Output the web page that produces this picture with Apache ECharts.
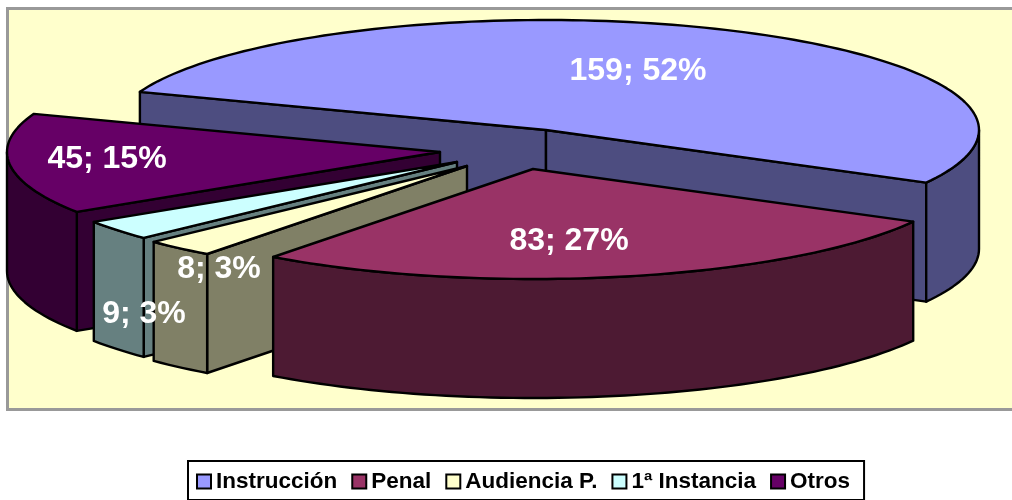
<!DOCTYPE html>
<html><head><meta charset="utf-8">
<style>html,body{margin:0;padding:0;background:#fff}#c{width:1012px;height:500px}</style>
<script src="https://cdn.jsdelivr.net/npm/echarts@6/dist/echarts.min.js"></script>
</head><body><div id="c"></div>
<script>
// Data
const categories = ['Instrucción', 'Penal', 'Audiencia P.', '1ª Instancia', 'Otros'];
const values = [159, 83, 8, 9, 45];
// Colours
const topColors = ['#9999FF', '#993366', '#FFFFCC', '#CCFFFF', '#660066'];
const sideColors = ['#4D4D80', '#4D1A33', '#808066', '#668080', '#330033'];
// Layout of the exploded, tilted pie (screen pixels)
const apexX = [546, 533, 467, 457, 440];
const apexY = [130, 169, 166, 162, 152];
const labelX = [638, 569, 219, 144, 107];
const labelY = [71, 241, 269, 314, 159];
const drawOrder = [1, 5, 4, 3, 2];
const radiusX = 433, radiusY = 110, depth = 119, startAngle = 200.3;

const total = values.reduce((a, b) => a + b, 0);
const rad = d => d * Math.PI / 180;
let acc = 0;
const spans = values.map(v => { const s = startAngle + acc / total * 360; acc += v; return [s, startAngle + acc / total * 360]; });

function arc(i, a0, a1, dy) {
  const n = Math.max(2, Math.ceil(Math.abs(a1 - a0) / 1.5)), pts = [];
  for (let k = 0; k <= n; k++) {
    const a = rad(a0 + (a1 - a0) * k / n);
    pts.push([apexX[i] + radiusX * Math.cos(a), apexY[i] + radiusY * Math.sin(a) + dy]);
  }
  return pts;
}
const stroke = { stroke: '#000', lineWidth: 2.4, lineJoin: 'round' };
function poly(points, fill) {
  return { type: 'polygon', shape: { points }, style: Object.assign({ fill }, stroke) };
}
function face(i, corner) {
  const apex = [apexX[i], apexY[i]];
  return poly([apex, corner, [corner[0], corner[1] + depth], [apex[0], apex[1] + depth]], sideColors[i]);
}
function render(i) {
  const [a0, a1] = spans[i], kids = [];
  const c0 = arc(i, a0, a0, 0)[0], c1 = arc(i, a1, a1, 0)[0];
  if (Math.sin(rad(a0 - 90)) > 0) kids.push(face(i, c0));
  if (Math.sin(rad(a1 + 90)) > 0) kids.push(face(i, c1));
  // outer wall: the part of the rim facing the viewer (0..180 deg, mod 360)
  for (const base of [0, 360]) {
    const w0 = Math.max(a0, base), w1 = Math.min(a1, base + 180);
    if (w1 > w0) kids.push(poly(arc(i, w0, w1, 0).concat(arc(i, w1, w0, depth)), sideColors[i]));
  }
  kids.push(poly([[apexX[i], apexY[i]]].concat(arc(i, a0, a1, 0)), topColors[i]));
  return { type: 'group', children: kids };
}
function renderLabel(params) {
  const i = params.dataIndex, pct = Math.round(values[i] / total * 100);
  return {
    type: 'text', x: labelX[i], y: labelY[i],
    style: { text: values[i] + '; ' + pct + '%', fill: '#fff', font: 'bold 32px "Liberation Sans", Arial, sans-serif', align: 'center', verticalAlign: 'middle' }
  };
}
const chart = echarts.init(document.getElementById('c'), null, { renderer: 'canvas' });
chart.setOption({
  animation: false,
  graphic: [{ type: 'rect', silent: true, z: -10, shape: { x: 7.5, y: 8.5, width: 1012, height: 401 }, style: { fill: '#FFFFCC', stroke: '#999', lineWidth: 3 } }],
  legend: {
    left: 188, top: 461, padding: [9, 14, 7, 8], itemGap: 14, itemWidth: 14, itemHeight: 14,
    backgroundColor: '#fff', borderColor: '#000', borderWidth: 2, selectedMode: false, icon: 'rect',
    itemStyle: { borderColor: '#000', borderWidth: 2 },
    textStyle: { color: '#000', fontWeight: 'bold', fontSize: 22.5, fontFamily: '"Liberation Sans", Arial, sans-serif' },
    data: categories
  },
  series: categories.map((name, i) => ({
    type: 'custom', name, coordinateSystem: 'none', z: drawOrder[i], silent: true,
    itemStyle: { color: topColors[i] }, data: [values[i]],
    renderItem: () => render(i)
  })).concat([{
    type: 'custom', name: 'labels', coordinateSystem: 'none', z: 10, silent: true,
    data: values, renderItem: renderLabel
  }])
});
</script></body></html>
